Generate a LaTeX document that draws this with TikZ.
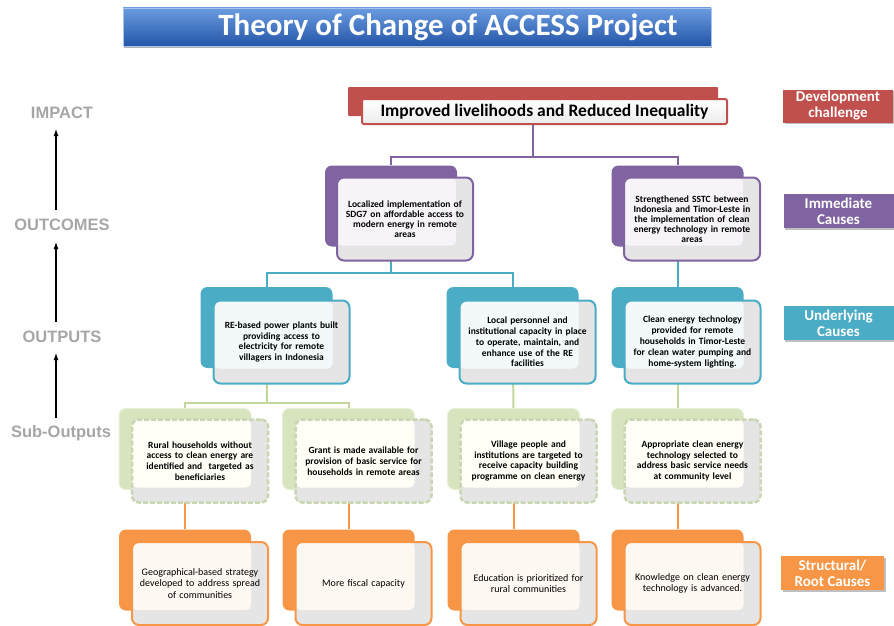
\documentclass[tikz,border=0pt]{standalone}
\usepackage{fontspec}
\setmainfont{Carlito}
\newfontfamily\arialfont{Liberation Sans}
\usetikzlibrary{backgrounds,shadows}
\definecolor{tocred}{HTML}{C0504D}
\definecolor{tocpurple}{HTML}{8064A2}
\definecolor{tocteal}{HTML}{4BACC6}
\definecolor{subgreen}{HTML}{D7E4BD}
\definecolor{subgreenline}{HTML}{C3D69B}
\definecolor{tocorange}{HTML}{F79646}
\definecolor{titletop}{HTML}{6A9BE0}
\definecolor{titlebot}{HTML}{2456A8}
\definecolor{levelgray}{HTML}{A6A6A6}

\begin{document}
\begin{tikzpicture}[x=1pt,y=-1pt,
	back/.style={rounded corners=7pt, minimum width=132pt, minimum height=81pt, fill=#1, inner sep=0pt},
	front/.style={rounded corners=7pt, minimum width=136pt, minimum height=83pt,
		draw=#1, line width=2pt, fill=gray!20, text width=132pt, align=center, inner sep=0pt,
		font=\fontsize{9.5}{10.8}\selectfont\bfseries,
		path picture={\fill[#1!7!white, rounded corners=5pt] (path picture bounding box.north west)
			rectangle ([xshift=-17pt,yshift=15pt]path picture bounding box.south east);}},
	subfront/.style={rounded corners=7pt, minimum width=136pt, minimum height=83pt,
		draw=subgreen!85!gray, line width=2.5pt, dash pattern=on 5pt off 2pt,
		fill=gray!20, text width=132pt, align=center, inner sep=0pt,
		font=\fontsize{9.5}{10.8}\selectfont\bfseries,
		path picture={\fill[yellow!3!white, rounded corners=5pt] (path picture bounding box.north west)
			rectangle ([xshift=-17pt,yshift=15pt]path picture bounding box.south east);}},
	link/.style={draw=#1, line width=2pt},
	catbox/.style={fill=#1, text=white, align=center, inner sep=1pt, minimum width=110pt, minimum height=33pt,
		font=\fontsize{15}{16}\selectfont\bfseries,
		drop shadow={shadow xshift=1.5pt, shadow yshift=-1.5pt, opacity=.5}},
	level/.style={text=levelgray, font=\arialfont\bfseries\fontsize{16.5}{16.5}\selectfont},
	levelarrow/.style={-latex, line width=1.3pt}]
	\useasboundingbox (0,0) rectangle (894,626);

	% 标题
	\node[minimum width=588pt, minimum height=38pt, top color=titletop, bottom color=titlebot,
		draw=titletop!60!white, drop shadow={shadow xshift=1pt, shadow yshift=-2.5pt, opacity=.6}]
		(title) at (417,27) {};
	\node[text=white, font=\fontsize{31}{31}\selectfont\bfseries] (titletext) at (448,27) {Theory of Change of ACCESS Project};

	% 左侧层级
	\node[level] (impact) at (62,113) {IMPACT};
	\node[level] (outcomes) at (62,225) {OUTCOMES};
	\node[level] (outputs) at (62,337) {OUTPUTS};
	\node[level] (subout) at (61,433) {Sub-Outputs};
	\draw[levelarrow, shorten <=6pt, shorten >=7pt] ([xshift=-6pt]outcomes.north) -- ([xshift=-6pt]impact.south);
	\draw[levelarrow, shorten <=6pt, shorten >=8pt] ([xshift=-6pt]outputs.north) -- ([xshift=-6pt]outcomes.south);
	\draw[levelarrow, shorten <=4pt, shorten >=7pt] ([xshift=-5pt]subout.north) -- ([xshift=-6pt]outputs.south);

	% 右侧原因类别
	\node[catbox=tocred] (devc) at (838,106) {Development\\challenge};
	\node[catbox=tocpurple, minimum height=34pt] (immc) at (838.5,211) {Immediate\\Causes};
	\node[catbox=tocteal, minimum height=34pt] (undc) at (838.5,323) {Underlying\\Causes};
	\node[catbox=tocorange, minimum width=103pt, minimum height=34pt] (rootc) at (832.5,573) {Structural/\\Root Causes};

	% 影响
	\node[fill=tocred, rounded corners=1pt, minimum width=370pt, minimum height=29pt] (topb) at (533,101.5) {};
	\node[draw=tocred, line width=2pt, rounded corners=2pt, top color=white, bottom color=gray!15,
		minimum width=365pt, minimum height=25pt, font=\fontsize{17.5}{17.5}\selectfont\bfseries]
		(top) at (544.5,111.5) {Improved livelihoods and Reduced Inequality};

	% 成果
	\node[back=tocpurple] (ob1) at (391,206) {};
	\node[front=tocpurple, font=\fontsize{9.5}{10}\selectfont\bfseries] (o1) at (405,219) {Localized implementation of\\ SDG7 on affordable access to\\ modern energy in remote\\ areas};
	\node[back=tocpurple] (ob2) at (677.5,206) {};
	\node[front=tocpurple, font=\fontsize{9.5}{10}\selectfont\bfseries] (o2) at (692,219) {Strengthened SSTC between\\ Indonesia and Timor-Leste in\\ the implementation of clean\\ energy technology in remote\\ areas};

	% 产出
	\node[back=tocteal] (pb1) at (266.5,327.5) {};
	\node[front=tocteal] (p1) at (281.5,342) {RE-based power plants built\\ providing access to\\ electricity for remote\\ villagers in Indonesia};
	\node[back=tocteal] (pb2) at (512.5,327.5) {};
	\node[front=tocteal] (p2) at (527.5,342) {Local personnel and\\ institutional capacity in place\\ to operate, maintain, and\\ enhance use of the RE\\ facilities};
	\node[back=tocteal] (pb3) at (677.5,327.5) {};
	\node[front=tocteal] (p3) at (692.5,342) {Clean energy technology\\ provided for remote\\ households in Timor-Leste\\ for clean water pumping and\\ home-system lighting.};

	% 次级产出与根本原因
	\foreach \x/\n/\stxt/\rtxt in {
		185/1/{Rural households without\\ access to clean energy are\\ identified and\ \ targeted as\\ beneficiaries}/{Geographical-based strategy\\ developed to address spread\\ of communities},
		348.5/2/{Grant is made available for\\ provision of basic service for\\ households in remote areas}/{More fiscal capacity},
		513.5/3/{Village people and\\ institutions are targeted to\\ receive capacity building\\ programme on clean energy}/{Education is prioritized for\\ rural communities},
		677.5/4/{Appropriate clean energy\\ technology selected to\\ address basic service needs\\ at community level}/{Knowledge on clean energy\\ technology is advanced.}}{
		\node[back=subgreen, draw=subgreen!60!white, line width=1pt] (sb\n) at (\x,449) {};
		\node[subfront] (s\n) at (\x+15,461) {\stxt};
		\node[back=tocorange] (rb\n) at (\x,570) {};
		\node[front=tocorange, font=\fontsize{10}{11.5}\selectfont] (r\n) at (\x+15,583.5) {\rtxt};
	}

	% 连线
	\begin{pgfonlayer}{background}
		\coordinate (bus1) at (533,157);
		\coordinate (bus2) at (391,273);
		\coordinate (bus3) at (267,403);
		\draw[link=tocpurple] (topb) -- (bus1);
		\draw[link=tocpurple] (ob1.north) |- (bus1) -| (ob2.north);
		\draw[link=tocteal] (ob1) -- (bus2);
		\draw[link=tocteal] (pb1.north) |- (bus2) -| (pb2.north);
		\draw[link=tocteal] (ob2) -- (pb3.north);
		\draw[link=subgreenline] (pb1) -- (bus3);
		\draw[link=subgreenline] (sb1.north) |- (bus3) -| (sb2.north);
		\draw[link=subgreenline] (pb2) -- (sb3.north);
		\draw[link=subgreenline] (pb3) -- (sb4.north);
		\foreach \n in {1,...,4}
			\draw[link=tocorange] (sb\n) -- (rb\n.north);
	\end{pgfonlayer}
\end{tikzpicture}
\end{document}
